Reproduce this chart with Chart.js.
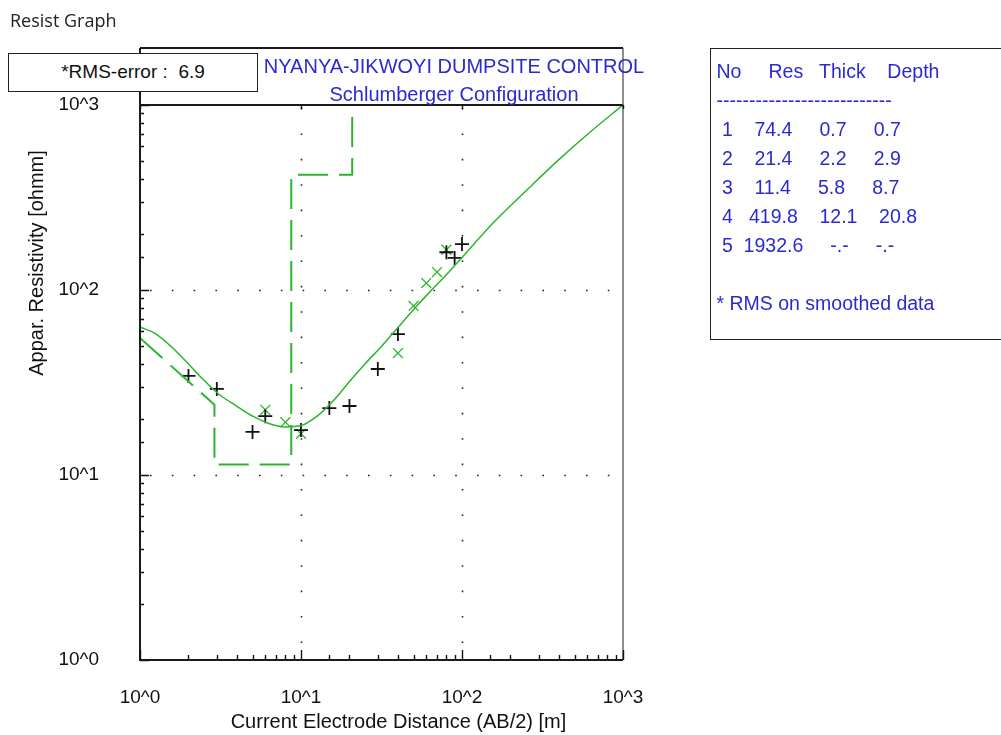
<!DOCTYPE html>
<html>
<head>
<meta charset="utf-8">
<title>Resist Graph</title>
<script src="https://cdn.jsdelivr.net/npm/chart.js@4.4.1/dist/chart.umd.min.js"></script>
<style>
  html, body { margin: 0; padding: 0; background: #fff; }
  #wrap { position: relative; width: 1001px; height: 735px; overflow: hidden; font-family: "Liberation Sans", Arial, sans-serif; }
  #wrap canvas { position: absolute; left: 0; top: 0; }
  #hdr { position: absolute; left: 10px; top: 8px; font: 18px "Open Sans", sans-serif; color: #222; }
  #rms { position: absolute; left: 8px; top: 53px; width: 250px; height: 39px; box-sizing: border-box; border: 1.5px solid #222;
         background: #fff; font-size: 19px; text-align: center; line-height: 36px; white-space: pre; color: #111; }
  #title { position: absolute; left: 258px; top: 52px; width: 392px; text-align: center; color: #2a2ad0; font-size: 20px; line-height: 28px; }
  #tbl { position: absolute; left: 710px; top: 48px; width: 320px; height: 292px; box-sizing: border-box; border: 1.5px solid #222; }
  #tbl pre { margin: 0; padding: 8px 0 0 5.5px; font: 19.5px "Liberation Sans", Arial, sans-serif; line-height: 29px; color: #2a2ad0; }
</style>
</head>
<body>
<div id="wrap">
  <canvas id="resistChart" width="1001" height="735"></canvas>
  <div id="hdr">Resist Graph</div>
  <div id="title"></div>
  <div id="rms"></div>
  <div id="tbl"><pre id="tblText"></pre></div>
</div>
<script>
// Datos de campo (AB/2 en m, resistividad aparente en ohm.m)
const fieldAB = [2, 3, 5, 6, 10, 15, 20, 30, 40, 80, 90, 100];
const fieldRho = [34.3, 29.2, 17.1, 20.8, 17.5, 23.0, 23.6, 37.4, 57.8, 160, 149, 177];

// Datos suavizados
const smoothAB = [6, 8, 10, 40, 50, 60, 70, 80];
const smoothRho = [22.5, 19.3, 16.7, 45.6, 82, 109, 125, 165];

// Curva calculada del modelo
const curveAB = [1, 1.26, 1.58, 2.0, 2.51, 3.16, 3.98, 5.01, 6.31, 7.94, 10, 12.6, 15.8, 20, 25.1, 31.6, 39.8, 50.1, 63.1, 79.4, 100, 158, 251, 398, 631, 1000];
const curveRho = [63.1, 57.8, 49.0, 39.8, 32.4, 26.9, 23.6, 20.8, 19.0, 18.2, 18.5, 20.8, 25.1, 32.0, 40.1, 49.5, 62.4, 78.5, 97.7, 120, 150, 233, 345, 505, 719, 1000];

// Modelo de capas (linea escalonada)
const modelAB = [1, 2.9, 2.9, 8.7, 8.7, 20.8, 20.8];
const modelRho = [55, 24, 11.4, 11.4, 419.8, 419.8, 1932.6];

// Tabla de capas
const layerNo = [1, 2, 3, 4, 5];
const layerRes = [74.4, 21.4, 11.4, 419.8, 1932.6];
const layerThick = [0.7, 2.2, 5.8, 12.1, null];
const layerDepth = [0.7, 2.9, 8.7, 20.8, null];
const rmsError = 6.9;

const titleLines = ['NYANYA-JIKWOYI DUMPSITE CONTROL', 'Schlumberger Configuration'];
const xTitle = 'Current Electrode Distance (AB/2) [m]';
const yTitle = 'Appar. Resistivity [ohmm]';
const gridDecades = [10, 100];

const green = '#2db42d';
const font = '"Liberation Sans", Arial, sans-serif';

function toXY(xs, ys) {
    return xs.map((x, i) => ({ x: x, y: ys[i] }));
}

function isDecade(v) {
    const e = Math.log10(v);
    return Math.abs(e - Math.round(e)) < 1e-9;
}

function decadeLabel(v) {
    return isDecade(v) ? '10^' + Math.round(Math.log10(v)) : '';
}

// textos en HTML
document.getElementById('title').innerHTML = titleLines.join('<br>');
document.getElementById('rms').textContent = '*RMS-error :  ' + rmsError.toFixed(1);
let fmt = v => (v === null ? '-.-' : v.toFixed(1)).padStart(8);
let rows = ['No     Res   Thick    Depth', '-'.repeat(27)];
layerNo.forEach((n, i) => {
    rows.push(String(n).padStart(2) + fmt(layerRes[i]) + fmt(layerThick[i]) + fmt(layerDepth[i]));
});
rows.push('', '* RMS on smoothed data');
document.getElementById('tblText').textContent = rows.join('\n');

// marco, marcas hacia dentro, rejilla punteada y titulos de ejes
const framePlugin = {
    id: 'frame',
    beforeDatasetsDraw(chart) {
        const { ctx, chartArea: a, scales: { x, y } } = chart;
        ctx.save();
        ctx.strokeStyle = '#222';
        ctx.lineWidth = 1.6;
        ctx.setLineDash([1.6, 23.8]);
        gridDecades.forEach(v => {
            const px = Math.round(x.getPixelForValue(v)) + 0.5;
            ctx.beginPath(); ctx.moveTo(px, a.top + 3); ctx.lineTo(px, a.bottom); ctx.stroke();
        });
        ctx.setLineDash([1.6, 20.2]);
        ctx.lineDashOffset = -10;
        gridDecades.forEach(v => {
            const py = Math.round(y.getPixelForValue(v)) + 0.5;
            ctx.beginPath(); ctx.moveTo(a.left, py); ctx.lineTo(a.right, py); ctx.stroke();
        });
        ctx.restore();
    },
    afterDatasetsDraw(chart) {
        const { ctx, chartArea: a, scales: { x, y } } = chart;
        ctx.save();
        ctx.strokeStyle = '#1a1a1a';
        ctx.lineWidth = 2;
        // ejes y caja del titulo
        ctx.beginPath();
        ctx.moveTo(a.left, 48); ctx.lineTo(a.left, a.bottom); ctx.lineTo(a.right, a.bottom);
        ctx.moveTo(a.left, a.top); ctx.lineTo(a.right, a.top);
        ctx.moveTo(a.left, 48); ctx.lineTo(a.right, 48);
        ctx.stroke();
        ctx.lineWidth = 1.2;
        ctx.strokeStyle = '#444';
        ctx.beginPath(); ctx.moveTo(a.right, 48); ctx.lineTo(a.right, a.bottom); ctx.stroke();
        // marcas
        ctx.strokeStyle = '#111';
        ctx.lineWidth = 1.4;
        ctx.beginPath();
        x.ticks.forEach(t => {
            const px = Math.round(x.getPixelForValue(t.value)) + 0.5;
            const len = isDecade(t.value) ? 10 : 5;
            ctx.moveTo(px, a.bottom); ctx.lineTo(px, a.bottom - len);
            if (isDecade(t.value)) { ctx.moveTo(px, a.top); ctx.lineTo(px, a.top + 4); }
        });
        y.ticks.forEach(t => {
            const py = Math.round(y.getPixelForValue(t.value)) + 0.5;
            const len = isDecade(t.value) ? 9 : 4;
            ctx.moveTo(a.left, py); ctx.lineTo(a.left + len, py);
        });
        ctx.stroke();
        // titulos de ejes
        ctx.fillStyle = '#111';
        ctx.font = '20px ' + font;
        ctx.textAlign = 'center';
        ctx.textBaseline = 'middle';
        ctx.fillText(xTitle, (a.left + a.right) / 2 + 17, a.bottom + 62);
        ctx.translate(37, a.top + 158);
        ctx.rotate(-Math.PI / 2);
        ctx.fillText(yTitle, 0, 0);
        ctx.restore();
    }
};

const ctx = document.getElementById('resistChart').getContext('2d');
const resistChart = new Chart(ctx, {
    type: 'scatter',
    data: {
        datasets: [{
            label: 'Modelo',
            data: toXY(modelAB, modelRho),
            showLine: true,
            borderColor: green,
            borderWidth: 2,
            borderDash: [30, 11],
            pointRadius: 0,
            tension: 0
        }, {
            label: 'Curva calculada',
            data: toXY(curveAB, curveRho),
            showLine: true,
            borderColor: green,
            borderWidth: 1.5,
            pointRadius: 0,
            cubicInterpolationMode: 'monotone'
        }, {
            label: 'Datos de campo',
            data: toXY(fieldAB, fieldRho),
            pointStyle: 'cross',
            pointRadius: 7,
            borderColor: '#111',
            borderWidth: 1.8
        }, {
            label: 'Datos suavizados',
            data: toXY(smoothAB, smoothRho),
            pointStyle: 'crossRot',
            pointRadius: 7,
            borderColor: green,
            borderWidth: 1.3
        }]
    },
    options: {
        responsive: false,
        animation: false,
        layout: { padding: { top: 105, right: 378, left: 0, bottom: 0 } },
        plugins: {
            legend: { display: false },
            tooltip: { enabled: false }
        },
        scales: {
            x: {
                type: 'logarithmic',
                min: 1,
                max: 1000,
                grid: { display: false },
                border: { display: false },
                ticks: {
                    autoSkip: false,
                    maxRotation: 0,
                    padding: 18,
                    color: '#111',
                    font: { size: 19, family: font },
                    callback: v => decadeLabel(v)
                },
                afterFit: s => { s.height = 75; }
            },
            y: {
                type: 'logarithmic',
                min: 1,
                max: 1000,
                grid: { display: false },
                border: { display: false },
                ticks: {
                    autoSkip: false,
                    padding: 33,
                    color: '#111',
                    font: { size: 19, family: font },
                    callback: v => decadeLabel(v)
                },
                afterFit: s => { s.width = 140; }
            }
        }
    },
    plugins: [framePlugin]
});
</script>
</body>
</html>
